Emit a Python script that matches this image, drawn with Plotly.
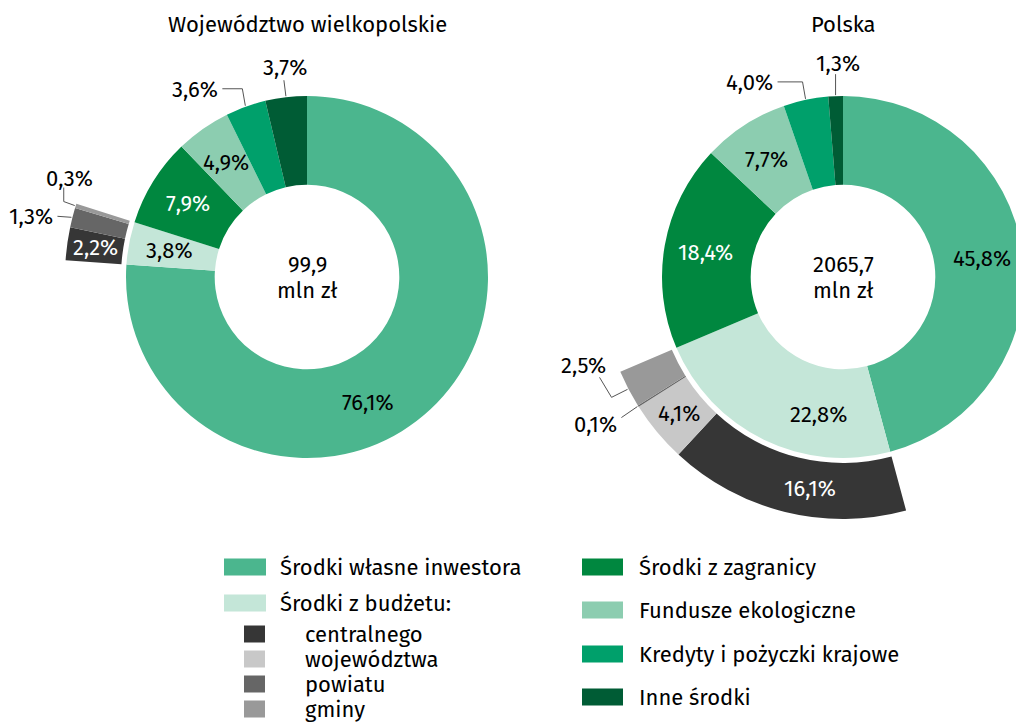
import math
import plotly.graph_objects as go

# figure is wider than the window on purpose: the "Polska" donut is cut at the right edge
W, H = 1090, 725
OFF = 0  # page body margin is removed below

categories = ["Środki własne inwestora", "Środki z budżetu:", "Środki z zagranicy",
              "Fundusze ekologiczne", "Kredyty i pożyczki krajowe", "Inne środki"]
budget_parts = ["centralnego", "województwa", "powiatu", "gminy"]

titles = ["Województwo wielkopolskie", "Polska"]
totals = ["99,9", "2065,7"]

wlkp_main = [76.1, 3.8, 7.9, 4.9, 3.6, 3.7]
wlkp_budget = [2.2, 0.0, 1.3, 0.3]
pl_main = [45.8, 22.8, 18.4, 7.7, 4.0, 1.3]
pl_budget = [16.1, 4.1, 0.1, 2.5]

main_colors = ["#4bb68e", "#c4e6d8", "#00873f", "#8ccdb0", "#00a06b", "#005c35"]
budget_colors = ["#363636", "#c8c8c8", "#666666", "#999999"]
white_text_main = [2]
white_text_ring = [0]

FONT = "Fira Sans, Noto Sans, sans-serif"
FS = 22
R_MAIN, HOLE = 181, 0.51
R_RING, RING_IN = 242, 186
CY = 277
centers = [307, 843]


def px(x, y):
    return (x - OFF) / W, 1 - (y - OFF) / H


def polar(cx, ang, r):
    a = math.radians(ang)
    return cx + r * math.sin(a), CY - r * math.cos(a)


# outside labels: leader path offsets from the slice edge, text offset, anchor
leaders = {
    (0, "main", 4): ([(-3, -17), (-23, -17)], (-25, -16), "right"),
    (0, "main", 5): ([(-2, -16)], (-1, -29), "center"),
    (0, "ring", 2): ([(-14, -1)], (-16, -1), "right"),
    (0, "ring", 3): ([(-11, -4), (-11, -18)], (-5, -27), "center"),
    (1, "main", 4): ([(-3, -17), (-28, -17)], (-31, -16), "right"),
    (1, "main", 5): ([(0, -21)], (2, -32), "center"),
    (1, "ring", 2): ([(-16, 11)], (-18, 18), "right"),
    (1, "ring", 3): ([(-16, 8), (-28, -12)], (-44, -24), "center"),
}
# small nudges of inside label angle (degrees) for the big slices
nudge = {(0, "main", 0): 17, (1, "main", 1): -16, (1, "ring", 0): -5}

fig = go.Figure()
annotations = []
shapes = []


def fmt(v):
    return f"{v:.1f}".replace(".", ",") + "%"


def label(x, y, text, anchor="center", color="#000000"):
    tx, ty = px(x, y)
    annotations.append(dict(x=tx, y=ty, text=text, showarrow=False, xanchor=anchor,
                            yanchor="middle", font=dict(size=FS, color=color)))


for k, (main, budget) in enumerate([(wlkp_main, wlkp_budget), (pl_main, pl_budget)]):
    cx = centers[k]
    x0, y1 = px(cx - R_MAIN, CY - R_MAIN)
    x1, y0 = px(cx + R_MAIN, CY + R_MAIN)
    fig.add_trace(go.Pie(
        values=main, labels=categories, marker=dict(colors=main_colors, line=dict(width=0)),
        hole=HOLE, sort=False, direction="clockwise", rotation=0, textinfo="none",
        hoverinfo="label+value", domain=dict(x=[x0, x1], y=[y0, y1]), showlegend=False,
    ))
    # outer ring with the budget breakdown
    before = sum(main[:1])
    after = sum(main[2:])
    ring_vals = [before] + budget + [after]
    ring_cols = ["rgba(0,0,0,0)"] + budget_colors + ["rgba(0,0,0,0)"]
    x0, y1 = px(cx - R_RING, CY - R_RING)
    x1, y0 = px(cx + R_RING, CY + R_RING)
    fig.add_trace(go.Pie(
        values=ring_vals, labels=["a"] + budget_parts + ["b"],
        marker=dict(colors=ring_cols, line=dict(width=0)),
        hole=RING_IN / R_RING, sort=False, direction="clockwise", rotation=0,
        textinfo="none", hoverinfo="skip", domain=dict(x=[x0, x1], y=[y0, y1]),
        showlegend=False,
    ))

    # labels
    for kind, vals, start, r_out, r_in, whites in [
        ("main", main, 0.0, R_MAIN, R_MAIN * HOLE, white_text_main),
        ("ring", budget, before, R_RING, RING_IN, white_text_ring),
    ]:
        cum = start
        for i, v in enumerate(vals):
            mid = (cum + v / 2) * 3.6
            cum += v
            if v == 0:
                continue
            key = (k, kind, i)
            if key in leaders:
                path, toff, anchor = leaders[key]
                ax, ay = polar(cx, mid, r_out + 1)
                pts = [(ax, ay)] + [(ax + dx, ay + dy) for dx, dy in path]
                d = "M " + " L ".join(f"{px(x, y)[0]},{px(x, y)[1]}" for x, y in pts)
                shapes.append(dict(type="path", path=d, xref="paper", yref="paper",
                                   line=dict(color="#555555", width=1)))
                label(ax + toff[0], ay + toff[1], fmt(v), anchor)
            else:
                rr = (r_out + r_in) / 2 if kind == "ring" else 140
                x, y = polar(cx, mid + nudge.get(key, 0), rr)
                label(x, y, fmt(v), color="#ffffff" if i in whites else "#000000")

    label(cx, CY - 13, totals[k])
    label(cx, CY + 13, "mln zł")
    label(cx, 25, titles[k])

# legend drawn by hand (two columns, budget sub-items indented)
legend_rows = [
    (categories[0], main_colors[0], 224, 278, 567, 42),
    (categories[1], main_colors[1], 224, 278, 603, 42),
    (budget_parts[0], budget_colors[0], 244, 303, 634, 21),
    (budget_parts[1], budget_colors[1], 244, 303, 659, 21),
    (budget_parts[2], budget_colors[2], 244, 303, 684, 21),
    (budget_parts[3], budget_colors[3], 244, 303, 709, 21),
    (categories[2], main_colors[2], 582, 637, 567, 41),
    (categories[3], main_colors[3], 582, 637, 610, 41),
    (categories[4], main_colors[4], 582, 637, 654, 41),
    (categories[5], main_colors[5], 582, 637, 697, 41),
]
for text, col, sx, tx_, yc, sw in legend_rows:
    a0, b1 = px(sx, yc - 8.5)
    a1, b0 = px(sx + sw, yc + 8.5)
    shapes.append(dict(type="rect", xref="paper", yref="paper", x0=a0, x1=a1, y0=b0, y1=b1,
                       fillcolor=col, line=dict(width=0)))
    label(tx_, yc, text, "left")

fig.update_layout(
    width=W, height=H,
    margin=dict(l=0, r=0, t=0, b=0),
    paper_bgcolor="white", plot_bgcolor="white",
    font=dict(family=FONT, size=FS, color="#000000"),
    annotations=annotations, shapes=shapes,
)

fig.write_html("out.html",
               post_script="document.body.style.margin='0';document.body.style.overflow='hidden';")
